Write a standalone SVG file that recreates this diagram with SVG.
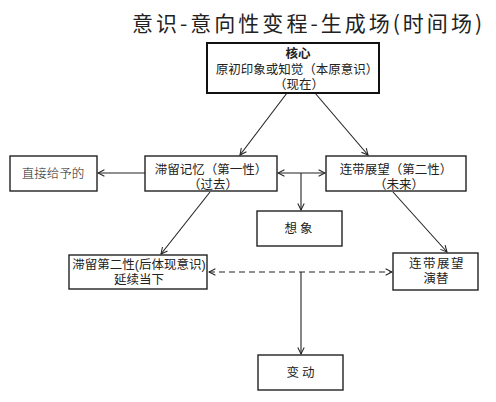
<svg xmlns="http://www.w3.org/2000/svg" width="496" height="402" viewBox="0 0 496 402">
<defs>
<style>
.box{fill:#fff;stroke:#222;stroke-width:1.4}
.core{fill:#fff;stroke:#111;stroke-width:2}
.t{font-family:"Liberation Sans","Noto Sans CJK SC",sans-serif;font-size:12.5px;fill:#222;text-anchor:middle}
.ln{fill:none;stroke:#222;stroke-width:1.1}
.dash{fill:none;stroke:#222;stroke-width:1.2;stroke-dasharray:6 4}
</style>
<marker id="ah" viewBox="0 0 10 10" refX="9" refY="5" markerWidth="8" markerHeight="8" orient="auto-start-reverse" markerUnits="userSpaceOnUse">
<path d="M1,1 L9,5 L1,9" fill="none" stroke="#222" stroke-width="1.3"/>
</marker>
</defs>
<rect width="496" height="402" fill="#fff"/>
<text x="132" y="31" font-family="'Noto Sans CJK SC',sans-serif" font-size="21" fill="#222" textLength="350" lengthAdjust="spacing">意识-意向性变程-生成场(时间场)</text>

<g id="connectors">
<line class="ln" x1="287" y1="93" x2="240" y2="155" marker-end="url(#ah)"/>
<line class="ln" x1="315" y1="93" x2="368" y2="155" marker-end="url(#ah)"/>
<line class="ln" x1="145" y1="173" x2="98" y2="173" marker-end="url(#ah)"/>
<line class="ln" x1="278" y1="173" x2="325" y2="173" marker-start="url(#ah)" marker-end="url(#ah)"/>
<line class="ln" x1="301" y1="173" x2="301" y2="210" marker-end="url(#ah)"/>
<line class="ln" x1="210" y1="192" x2="161" y2="254" marker-end="url(#ah)"/>
<line class="ln" x1="393" y1="192" x2="447" y2="252" marker-end="url(#ah)"/>
<line class="dash" x1="209" y1="272" x2="392" y2="272" marker-start="url(#ah)" marker-end="url(#ah)"/>
<line class="ln" x1="301" y1="272" x2="301" y2="354" marker-end="url(#ah)"/>
</g>

<g id="core">
<rect class="core" x="207" y="43" width="172" height="50"/>
<text class="t"><tspan x="298" y="58" font-weight="bold">核心</tspan><tspan x="297" y="73.5">原初印象或知觉（本原意识）</tspan><tspan x="299" y="88.5">（现在）</tspan></text>
</g>

<g id="given">
<rect class="box" x="10" y="156" width="87" height="35"/>
<text class="t" x="53" y="178" font-weight="300">直接给予的</text>
</g>

<g id="retention">
<rect class="box" x="145" y="156" width="132" height="35"/>
<text class="t"><tspan x="211" y="173.5">滞留记忆（第一性）</tspan><tspan x="213" y="188.5">（过去）</tspan></text>
</g>

<g id="protention">
<rect class="box" x="326" y="156" width="140" height="35"/>
<text class="t"><tspan x="396" y="173.5">连带展望（第二性）</tspan><tspan x="399" y="188.5">（未来）</tspan></text>
</g>

<g id="imagination">
<rect class="box" x="257" y="211" width="85" height="35"/>
<text class="t" x="300" y="233" letter-spacing="3">想象</text>
</g>

<g id="secondary-retention">
<rect class="box" x="69" y="255" width="138" height="34"/>
<text class="t"><tspan x="139" y="268.5">滞留第二性(后体现意识)</tspan><tspan x="139" y="283.5">延续当下</tspan></text>
</g>

<g id="protention-succession">
<rect class="box" x="393" y="253" width="85" height="37"/>
<text class="t"><tspan x="437" y="268" letter-spacing="1.5">连带展望</tspan><tspan x="436" y="283">演替</tspan></text>
</g>

<g id="change">
<rect class="box" x="258" y="355" width="85" height="35"/>
<text class="t" x="302" y="377" letter-spacing="3">变动</text>
</g>
</svg>
